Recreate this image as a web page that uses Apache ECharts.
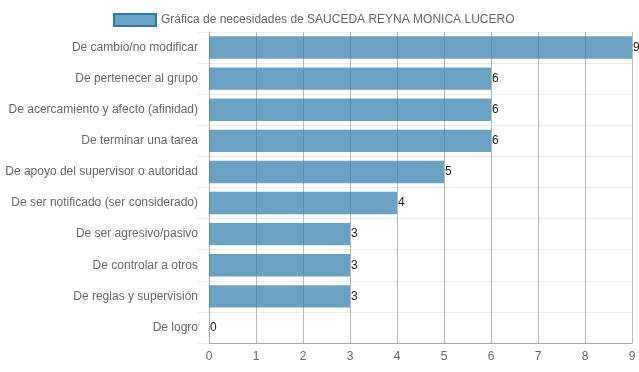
<!DOCTYPE html>
<html><head><meta charset="utf-8">
<script src="https://cdn.jsdelivr.net/npm/echarts@6/dist/echarts.min.js"></script>
<style>html,body{margin:0;padding:0;background:#fff}#c{width:639px;height:372px}</style>
</head><body><div id="c"></div>
<script>
const categories = ["De cambio/no modificar","De pertenecer al grupo","De acercamiento y afecto (afinidad)","De terminar una tarea","De apoyo del supervisor o autoridad","De ser notificado (ser considerado)","De ser agresivo/pasivo","De controlar a otros","De reglas y supervisión","De logro"];
const values = [9,6,6,6,5,4,3,3,3,0];
const seriesName = "Gráfica de necesidades de SAUCEDA REYNA MONICA LUCERO";
const xTicks = {min:0, max:9, interval:1};

const chart = echarts.init(document.getElementById('c'), null, {renderer:'canvas'});
chart.setOption({
  animation:false,
  textStyle:{fontFamily:'Liberation Sans, Arial, sans-serif'},
  legend:{
    top:8, left:108, itemWidth:42, itemHeight:12, itemGap:6, icon:'rect',
    textStyle:{color:'#666', fontSize:12},
    itemStyle:{borderColor:'#2f7aa6', borderWidth:2},
    data:[seriesName]
  },
  grid:{left:209, right:7, top:32, bottom:29, containLabel:false},
  xAxis:{
    type:'value', min:xTicks.min, max:xTicks.max, interval:xTicks.interval,
    axisLine:{show:true, lineStyle:{color:'#a8a8a8'}},
    axisTick:{show:false},
    axisLabel:{color:'#666', fontSize:12, margin:8},
    splitLine:{show:true, lineStyle:{color:'#b8b8b8', width:1}}
  },
  yAxis:{
    type:'category', inverse:true, data:categories,
    axisLine:{show:true, lineStyle:{color:'#a8a8a8'}},
    axisTick:{show:true, length:12, lineStyle:{color:'#ebebeb'}},
    axisLabel:{color:'#666', fontSize:12, margin:11},
    splitLine:{show:true, lineStyle:{color:'#ebebeb', width:1}}
  },
  series:[{
    name:seriesName, type:'bar', data:values, barCategoryGap:'28%',
    itemStyle:{color:'rgba(50,125,170,0.72)'},
    label:{show:true, position:'right', distance:1, color:'#222', fontSize:12},
    z:3
  }]
});
</script></body></html>
